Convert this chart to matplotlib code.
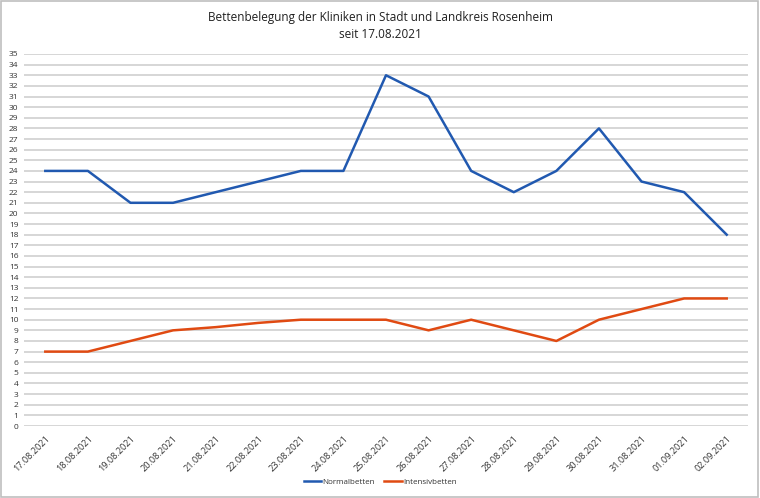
import matplotlib
matplotlib.use("Agg")
import matplotlib.pyplot as plt
from matplotlib.patches import Rectangle

dates = ["17.08.2021", "18.08.2021", "19.08.2021", "20.08.2021", "21.08.2021",
         "22.08.2021", "23.08.2021", "24.08.2021", "25.08.2021", "26.08.2021",
         "27.08.2021", "28.08.2021", "29.08.2021", "30.08.2021", "31.08.2021",
         "01.09.2021", "02.09.2021"]
normalbetten = [24, 24, 21, 21, 22, 23, 24, 24, 33, 31, 24, 22, 24, 28, 23, 22, 18]
intensivbetten = [7, 7, 8, 9, 9.3, 9.7, 10, 10, 10, 9, 10, 9, 8, 10, 11, 12, 12]

plt.rcParams['font.family'] = ['Open Sans', 'DejaVu Sans']

fig = plt.figure(figsize=(7.6, 4.98), dpi=100)
ax = fig.add_axes([24 / 760, 1 - 426 / 498, 724 / 760, 372 / 498])

x = range(len(dates))
ax.plot(x, normalbetten, color="#2159B0", lw=1.8, label="Normalbetten")
ax.plot(x, intensivbetten, color="#E04A12", lw=1.8, label="Intensivbetten")

ax.set_xlim(-0.5, len(dates) - 0.5)
ax.set_ylim(0, 35)
ax.set_yticks(range(0, 36))
ax.set_xticks(list(x))
ax.set_xticklabels(dates, rotation=45, ha="right", va="top", rotation_mode="anchor")
ax.tick_params(axis="both", length=0, labelsize=6, colors="#333333")
ax.tick_params(axis="x", pad=6, labelsize=6.6)
ax.tick_params(axis="y", pad=4)
ax.grid(axis="y", color="#D0D0D0", lw=1.2)
ax.set_axisbelow(True)
for s in ax.spines.values():
    s.set_visible(False)

fig.text(0.5, 1 - 17 / 498, "Bettenbelegung der Kliniken in Stadt und Landkreis Rosenheim",
         ha="center", va="center", fontsize=8.5, color="#202020")
fig.text(0.5, 1 - 34 / 498, "seit 17.08.2021", ha="center", va="center",
         fontsize=8.5, color="#202020")

fig.legend(loc="center", bbox_to_anchor=(0.5, 1 - 482 / 498), ncol=2, frameon=False,
           fontsize=5.8, handlelength=2.2, handletextpad=0.1, columnspacing=1.2,
           labelcolor="#333333")

fig.patches.append(Rectangle((0.001, 0.002), 0.997, 0.995, transform=fig.transFigure,
                             fill=False, edgecolor="#BFBFBF", lw=1.2))

fig.savefig("out.png", dpi=100)
